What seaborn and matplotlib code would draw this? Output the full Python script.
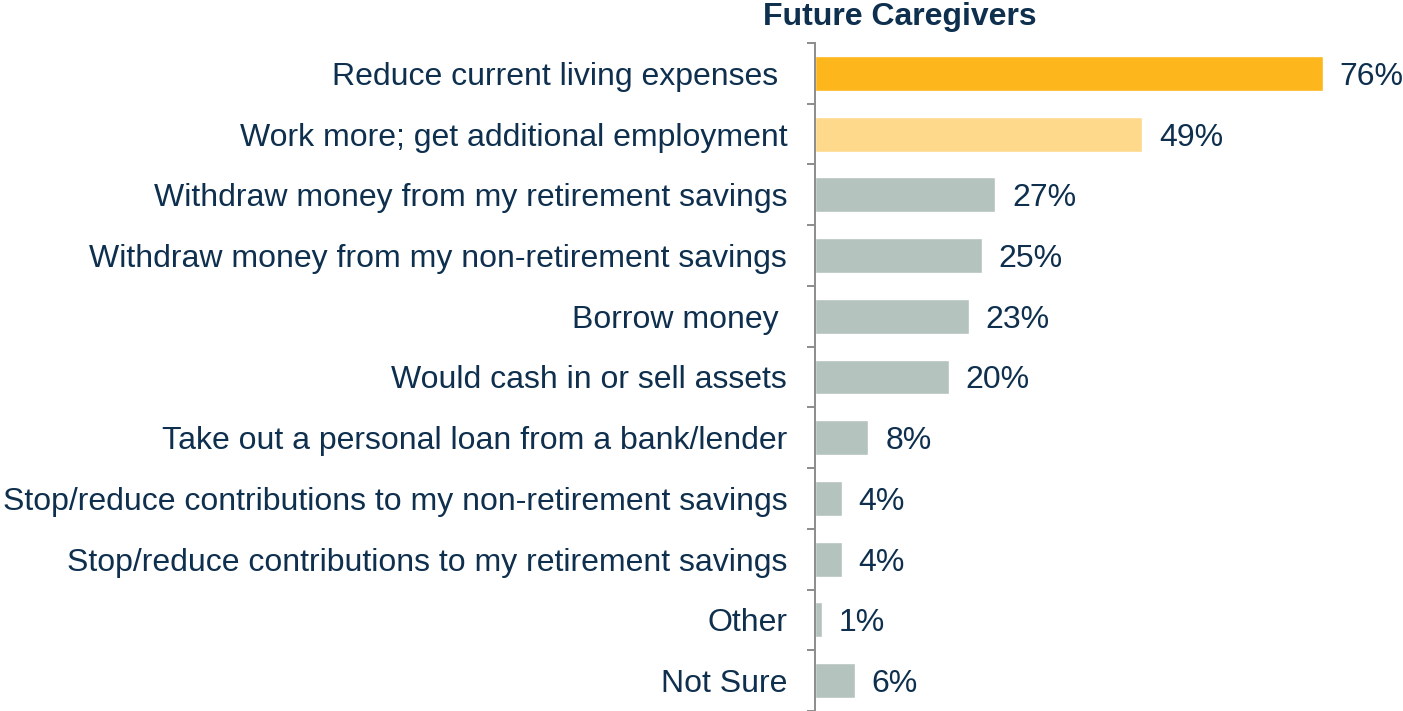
import matplotlib
matplotlib.use("Agg")
import matplotlib.pyplot as plt
import seaborn as sns
import pandas as pd
import numpy as np

categories = [
    "Reduce current living expenses ",
    "Work more; get additional employment",
    "Withdraw money from my retirement savings",
    "Withdraw money from my non-retirement savings",
    "Borrow money ",
    "Would cash in or sell assets",
    "Take out a personal loan from a bank/lender",
    "Stop/reduce contributions to my non-retirement savings",
    "Stop/reduce contributions to my retirement savings",
    "Other",
    "Not Sure",
]
values = [76, 49, 27, 25, 23, 20, 8, 4, 4, 1, 6]
bar_colors = ["#FDB71C", "#FED98C"] + ["#B5C3BF"] * 9
title = "Future Caregivers"

sns.set_theme(style="white")
plt.rcParams["font.family"] = ["Liberation Sans", "DejaVu Sans"]
text_color = "#0E2F4D"
fs = 23

df = pd.DataFrame({"category": categories, "value": values})

fig = plt.figure(figsize=(14.03, 7.11), dpi=100)
ax = fig.add_axes([815 / 1403, 0, 1 - 815 / 1403, 1 - 43 / 711])

sns.barplot(data=df, x="value", y="category", hue="category",
            palette=bar_colors, legend=False, width=0.575,
            saturation=1, ax=ax, orient="h")

ax.set_xlim(0, 88)
ax.set_ylim(len(categories) - 0.5, -0.5)
ax.set_xlabel("")
ax.set_ylabel("")
ax.set_xticks([])

for s in ["top", "right", "bottom"]:
    ax.spines[s].set_visible(False)
ax.spines["left"].set_color("#8C8C8C")
ax.spines["left"].set_linewidth(1.4)

# category labels on major ticks without marks; separators as minor ticks
ax.set_yticks(range(len(categories)))
ax.set_yticklabels(categories, fontsize=fs, color=text_color)
ax.tick_params(axis="y", which="major", length=0, pad=20)
ax.set_yticks(np.arange(-0.5, len(categories), 1.0), minor=True)
ax.tick_params(axis="y", which="minor", left=True, length=6, width=1.4,
               color="#8C8C8C")

for i, v in enumerate(values):
    ax.text(v + 2.5, i, f"{v}%", va="center_baseline", ha="left",
            fontsize=fs, color=text_color)

fig.text(900 / 1403, 1 - 17 / 711, title, ha="center", va="center",
         fontsize=fs, fontweight="bold", color=text_color)

fig.savefig("out.png", dpi=100)
